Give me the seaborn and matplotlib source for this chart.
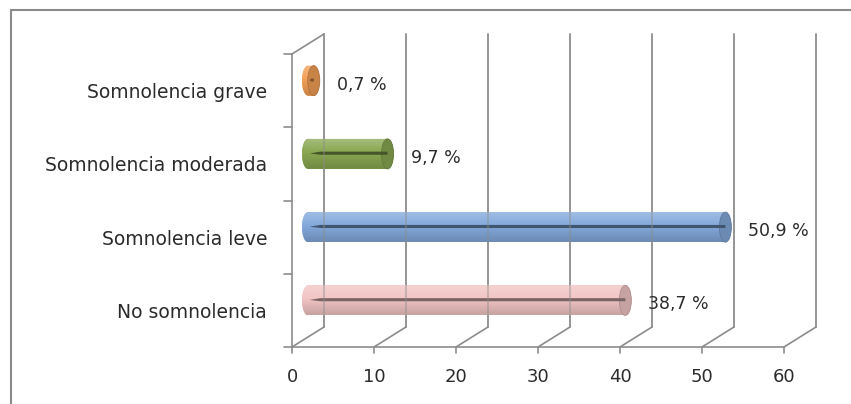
import numpy as np
import pandas as pd
import matplotlib
matplotlib.use("Agg")
import matplotlib.pyplot as plt
import seaborn as sns
from matplotlib import transforms as mtransforms
from matplotlib.patches import Ellipse, Rectangle, Polygon
from matplotlib.lines import Line2D
from matplotlib.colors import to_rgb

# ---- data -------------------------------------------------------------
categories = ["No somnolencia", "Somnolencia leve",
              "Somnolencia moderada", "Somnolencia grave"]
values = [38.7, 50.9, 9.7, 0.7]
value_labels = ["38,7 %", "50,9 %", "9,7 %", "0,7 %"]
bar_colors = ["#f2c6c5", "#84aadc", "#8aa852", "#f4a057"]
x_ticks = [0, 10, 20, 30, 40, 50, 60]

# ---- style ------------------------------------------------------------
sns.set_theme(style="white")
plt.rcParams["font.family"] = ["DejaVu Sans"]
GRID = "#8c8c8c"
TEXT = "#2b2b2b"

W, H = 851, 404
fig = plt.figure(figsize=(W / 100, H / 100), dpi=100)
fig.patch.set_facecolor("white")

# chart-area frame (runs off the right and bottom edges)
fig.add_artist(Rectangle((11, -20), 900, H - 10 + 20, fill=False,
                         edgecolor="#8a8a8a", linewidth=1.5,
                         transform=mtransforms.IdentityTransform()))

ax = fig.add_axes([292 / W, 57 / H, 492 / W, 293 / H])
df = pd.DataFrame({"categoria": categories, "porcentaje": values})
sns.barplot(data=df, x="porcentaje", y="categoria", hue="categoria",
            order=categories, hue_order=categories, palette=bar_colors,
            saturation=1, width=0.41, orient="h", legend=False, ax=ax,
            zorder=3)

XMIN, XMAX, YMIN, YMAX = 0, 60, -0.5, 3.5
ax.set_xlim(XMIN, XMAX)
ax.set_ylim(YMIN, YMAX)
ax.axis("off")

# depth offsets of the pseudo-3D box (in pixels)
DX, DY = 32, 20
mid = ax.transData + mtransforms.Affine2D().translate(DX / 2, DY / 2)
back = ax.transData + mtransforms.Affine2D().translate(DX, DY)
ident = mtransforms.IdentityTransform()


def disp(x, y, dx=0, dy=0):
    p = ax.transData.transform((x, y))
    return p[0] + dx, p[1] + dy


def seg(p, q, z=1, **kw):
    fig.add_artist(Line2D([p[0], q[0]], [p[1], q[1]], transform=ident,
                          color=GRID, linewidth=1.2, zorder=z, **kw))


# back wall gridlines (behind the bars, and faintly through them)
for xv in x_ticks:
    for z, a in ((1, 1.0), (6, 0.5)):
        ax.plot([xv, xv], [YMIN, YMAX], color=GRID, lw=1.2, alpha=a,
                transform=back, zorder=z, clip_on=False)

# floor: front edge, depth diagonals and tick marks
ax.plot([XMIN, XMAX], [YMIN, YMIN], color=GRID, lw=1.2, zorder=2,
        clip_on=False)
for xv in x_ticks:
    seg(disp(xv, YMIN), disp(xv, YMIN, DX, DY), z=2)
    seg(disp(xv, YMIN), disp(xv, YMIN, 0, -6), z=2)
    ax.text(xv, YMIN, str(xv), transform=ax.transData +
            mtransforms.Affine2D().translate(0, -30),
            ha="center", va="center", fontsize=13, color=TEXT)

# left wall: front edge, top diagonal and category ticks
ax.plot([XMIN, XMIN], [YMIN, YMAX], color=GRID, lw=1.2, zorder=2,
        clip_on=False)
seg(disp(XMIN, YMAX), disp(XMIN, YMAX, DX, DY), z=2)
for k in range(len(categories) + 1):
    yv = YMIN + k
    seg(disp(XMIN, yv), disp(XMIN, yv, -8, 0), z=2)

for i, cat in enumerate(categories):
    ax.text(XMIN, i, cat, transform=ax.transData +
            mtransforms.Affine2D().translate(-25, -2),
            ha="right", va="center", fontsize=13.5, color=TEXT)

# ---- cylinders ---------------------------------------------------------
px_per_unit = 492 / (XMAX - XMIN)
rx = 6 / px_per_unit          # half-width of the elliptical end caps
theta_l = np.linspace(np.pi / 2, 3 * np.pi / 2, 40)
theta_r = np.linspace(-np.pi / 2, np.pi / 2, 40)

for patch in list(ax.patches):
    w = patch.get_width()
    h = patch.get_height()
    yc = patch.get_y() + h / 2
    idx = int(round(yc))
    base = np.array(to_rgb(bar_colors[idx]))
    light = base + (1 - base) * 0.28
    dark = base * 0.8
    ry = h / 2

    patch.set_transform(mid)
    patch.set_edgecolor("none")
    patch.set_facecolor(base)
    patch.set_zorder(3)

    left_half = np.column_stack([rx * np.cos(theta_l), yc + ry * np.sin(theta_l)])
    right_half = np.column_stack([w + rx * np.cos(theta_r), yc + ry * np.sin(theta_r)])
    ax.add_patch(Polygon(left_half, closed=True, facecolor=base,
                         edgecolor="none", transform=mid, zorder=3))

    # vertical shading across the cylinder
    t = np.linspace(0, 1, 80)[:, None]
    cols = np.where(t < 0.45,
                    light + (base - light) * (t / 0.45),
                    base + (dark - base) * ((t - 0.45) / 0.55))
    img = cols[:, None, :]
    capsule = Polygon(np.vstack([right_half, left_half]), closed=True,
                      transform=mid)
    im = ax.imshow(img, extent=[-rx, w + rx, yc - ry, yc + ry],
                   aspect="auto", origin="upper", transform=mid,
                   zorder=3.1, alpha=0.9, interpolation="bilinear")
    im.set_clip_path(capsule)

    # visible end cap
    ax.add_patch(Ellipse((w, yc), 2 * rx, h, facecolor=base * 0.82,
                         edgecolor=base * 0.72, linewidth=0.6,
                         transform=mid, zorder=3.2))

    # dark streak along the axis of the cylinder
    x_tip = min(0.2, w * 0.3)
    x_full = min(1.5, w * 0.6)
    ax.add_patch(Polygon([(x_tip, yc + 0.006), (x_full, yc + 0.03),
                          (w, yc + 0.03), (w, yc - 0.012),
                          (x_full, yc - 0.012)],
                         closed=True, facecolor=base * 0.5,
                         edgecolor="none", transform=mid, zorder=3.3))

    ax.text(w, yc, value_labels[idx],
            transform=ax.transData + mtransforms.Affine2D().translate(DX / 2 + 23, DY / 2 - 4),
            ha="left", va="center", fontsize=12.5, color=TEXT, zorder=7)

ax.set_xlim(XMIN, XMAX)
ax.set_ylim(YMIN, YMAX)

fig.savefig("out.png", dpi=100, facecolor="white")
